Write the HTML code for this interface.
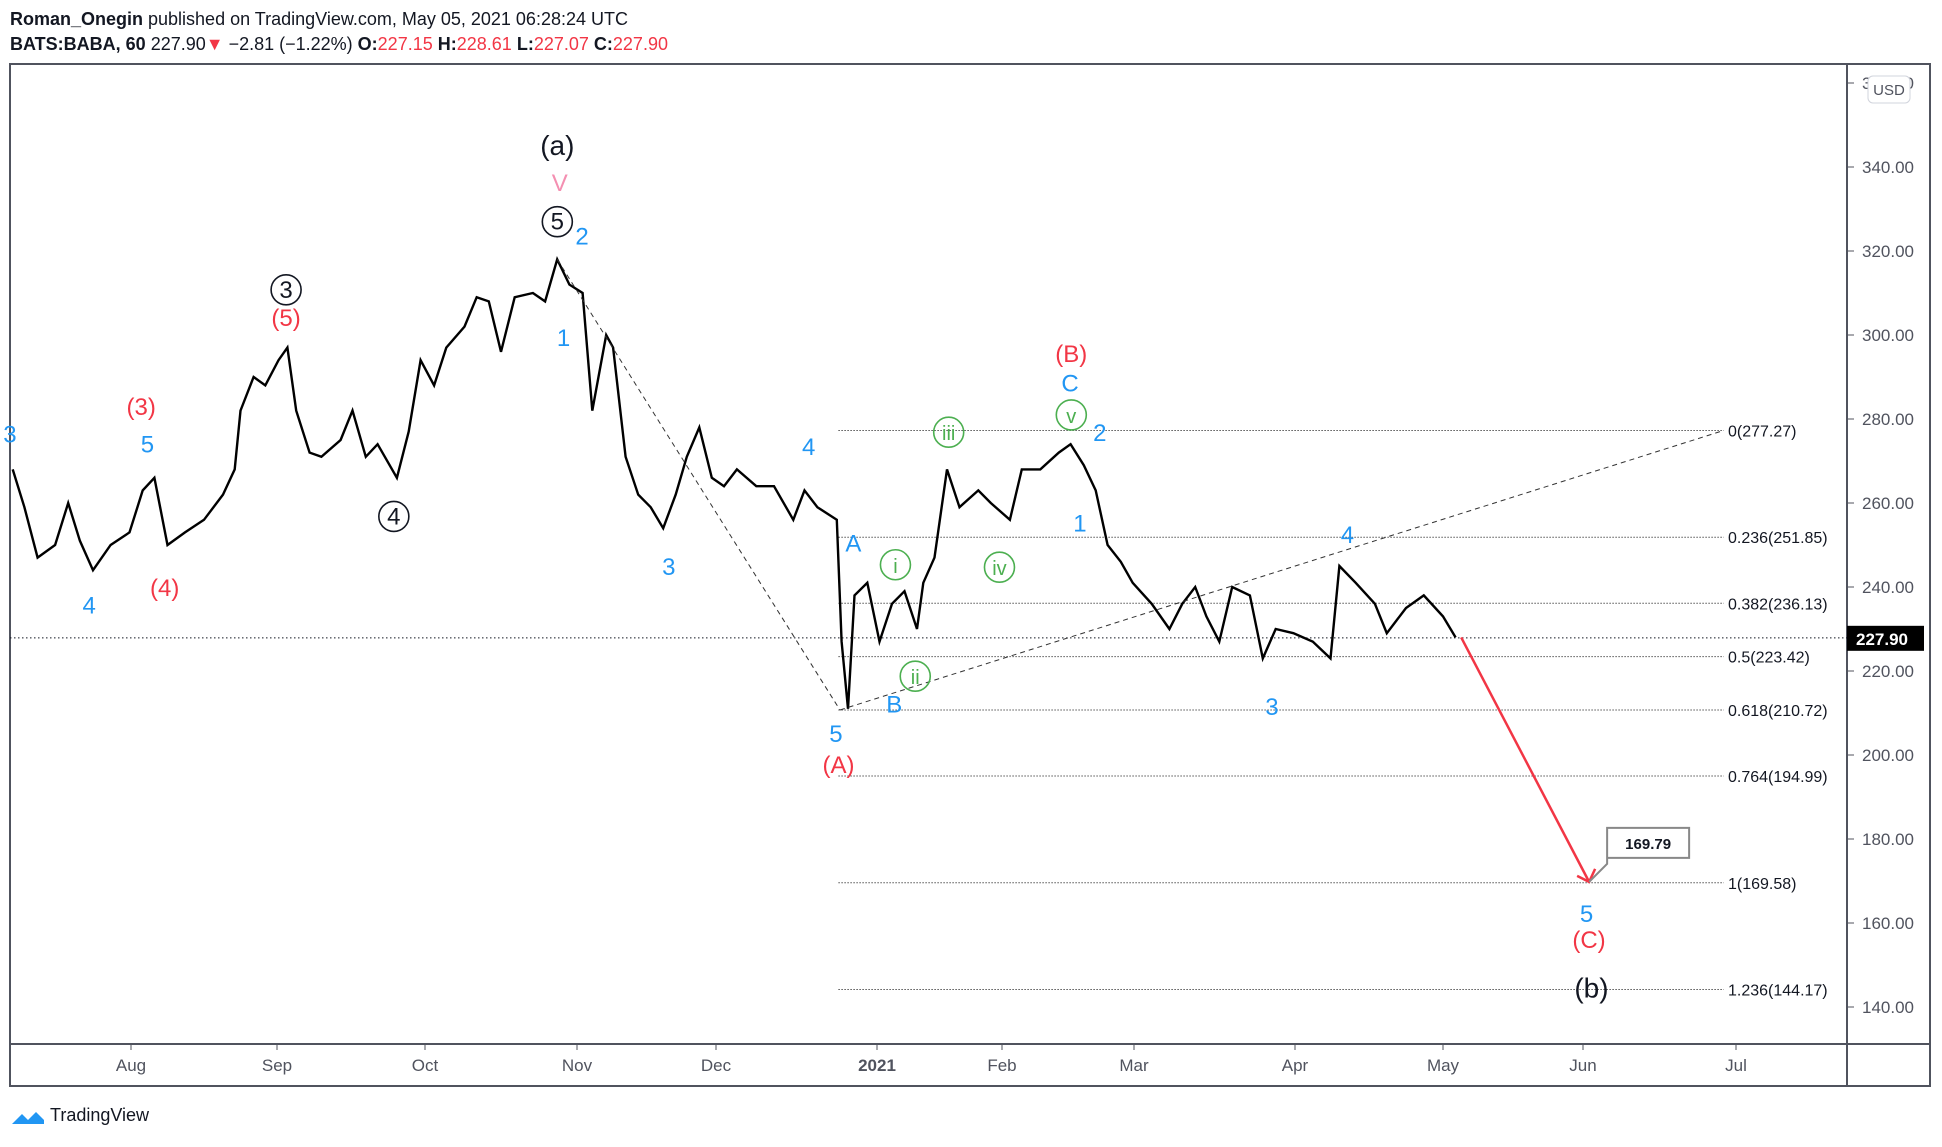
<!DOCTYPE html>
<html><head><meta charset="utf-8"><style>
html,body{margin:0;padding:0;background:#fff;}
body{width:1942px;height:1142px;overflow:hidden;font-family:"Liberation Sans",sans-serif;}
</style></head><body>
<svg width="1942" height="1142" xmlns="http://www.w3.org/2000/svg" id="svg">
<text x="10" y="25" font-size="18" fill="#131722"><tspan font-weight="bold">Roman_Onegin</tspan> published on TradingView.com, May 05, 2021 06:28:24 UTC</text>
<text x="10" y="50" font-size="18" fill="#131722"><tspan font-weight="bold">BATS:BABA, 60</tspan>  227.90<tspan fill="#f23645">▼</tspan> −2.81 (−1.22%) <tspan font-weight="bold">O:</tspan><tspan fill="#f23645">227.15</tspan> <tspan font-weight="bold">H:</tspan><tspan fill="#f23645">228.61</tspan> <tspan font-weight="bold">L:</tspan><tspan fill="#f23645">227.07</tspan> <tspan font-weight="bold">C:</tspan><tspan fill="#f23645">227.90</tspan></text>
<rect x="10" y="64" width="1920" height="1022" fill="none" stroke="#50535e" stroke-width="2"/>
<line x1="1847" y1="64" x2="1847" y2="1086" stroke="#50535e" stroke-width="2"/>
<line x1="10" y1="1044" x2="1930" y2="1044" stroke="#50535e" stroke-width="2"/>
<g id="grid"></g><g id="series"></g><g id="ann"></g>
<g>
<path d="M12 1124 l10-10 l6 6 l8-8 l8 8 l0 4 z" fill="#2196f3"/>
<text x="50" y="1121" font-size="18" fill="#131722">TradingView</text>
</g>
</svg>
<script>
const tTicks=[1,2,3,4,5,6,7,8,9,10,11,12];
const tickLabels=["Aug","Sep","Oct","Nov","Dec","2021","Feb","Mar","Apr","May","Jun","Jul"];
const tickX=[131,277,425,577,716,877,1002,1134,1295,1443,1583,1736];
const priceTicks=[360,340,320,300,280,260,240,220,200,180,160,140];
const times=[0.19,0.27,0.36,0.48,0.57,0.65,0.74,0.86,0.99,1.08,1.16,1.25,1.37,1.50,1.63,1.71,1.75,1.84,1.92,2.01,2.07,2.13,2.22,2.30,2.43,2.51,2.60,2.68,2.81,2.89,2.97,3.06,3.14,3.26,3.34,3.42,3.50,3.59,3.71,3.79,3.87,3.95,4.04,4.11,4.21,4.26,4.35,4.44,4.53,4.62,4.71,4.79,4.88,4.97,5.05,5.13,5.25,5.36,5.48,5.55,5.63,5.75,5.78,5.82,5.86,5.94,6.02,6.12,6.22,6.32,6.37,6.46,6.56,6.66,6.81,6.91,7.06,7.15,7.29,7.43,7.52,7.62,7.71,7.80,7.90,7.99,8.11,8.22,8.30,8.38,8.45,8.53,8.61,8.72,8.80,8.88,8.99,9.12,9.24,9.30,9.41,9.54,9.62,9.75,9.87,10.0,10.09];
const prices=[268,259,247,250,260,251,244,250,253,263,266,250,253,256,262,268,282,290,288,294,297,282,272,271,275,282,271,274,266,277,294,288,297,302,309,308,296,309,310,308,318,312,310,282,300,297,271,262,259,254,262,271,278,266,264,268,264,264,256,263,259,256,227,211,238,241,227,236,239,230,241,247,268,259,263,260,256,268,268,272,274,269,263,250,246,241,236,230,236,240,233,227,240,238,223,230,229,227,223,245,241,236,229,235,238,233,228];
const fibRatios=["0","0.236","0.382","0.5","0.618","0.764","1","1.236"];
const fibPrices=[277.27,251.85,236.13,223.42,210.72,194.99,169.58,144.17];
const lastPrice=227.90;
const target=169.79;

function X(t){
  if(t<=tTicks[0]) return tickX[0]-(tTicks[0]-t)*146;
  for(let i=0;i<tTicks.length-1;i++){
    if(t<=tTicks[i+1]) return tickX[i]+(t-tTicks[i])*(tickX[i+1]-tickX[i]);
  }
  return tickX[tickX.length-1]+(t-tTicks[tTicks.length-1])*150;
}
function Y(p){return 167+(340-p)*4.2;}
const NS="http://www.w3.org/2000/svg";
function mk(tag,attrs,parent,txt){const e=document.createElementNS(NS,tag);for(const k in attrs)e.setAttribute(k,attrs[k]);if(txt!==undefined)e.textContent=txt;parent.appendChild(e);return e;}
const grid=document.getElementById('grid'),series=document.getElementById('series'),ann=document.getElementById('ann');

priceTicks.forEach(p=>{
  const y=Y(p);
  const l=mk('line',{x1:1847,y1:y,x2:1854,y2:y,stroke:'#50535e'},grid);
  
  
  const t=mk('text',{x:1862,y:y+6,'font-size':17,fill:'#50535e'},grid,p.toFixed(2));
  
  
});
tTicks.forEach((tt,i)=>{
  const x=X(tt);
  const l=mk('line',{x1:x,y1:1044,x2:x,y2:1050,stroke:'#50535e'},grid);
  
  
  const t=mk('text',{x:x,y:1071,'font-size':17,fill:'#50535e','text-anchor':'middle','font-weight':i==5?'bold':'normal'},grid,tickLabels[i]);
  
  
});
const fx1=X(5.76),fx2=X(11.92);
fibPrices.forEach((p,i)=>{
  const y=Y(p);
  const l=mk('line',{x1:fx1,y1:y,x2:fx2,y2:y,stroke:'#555','stroke-width':1,'stroke-dasharray':'1.5,1.5'},grid);
  
  
  const t=mk('text',{x:1728,y:y+6,'font-size':16,fill:'#131722'},grid,fibRatios[i]+'('+p.toFixed(2)+')');
  
  
});
const ly=Y(lastPrice);
const ll=mk('line',{x1:10,y1:ly,x2:1847,y2:ly,stroke:'#131722','stroke-dasharray':'1.5,2.5'},grid);


const lr=mk('rect',{x:1847,y:ly-12,width:77,height:25,fill:'#000'},grid);


const lt=mk('text',{x:1856,y:ly+7,'font-size':17,fill:'#fff','font-weight':'bold'},grid,lastPrice.toFixed(2));


const ub=mk('rect',{x:1868,y:76,width:42,height:27,rx:5,fill:'#fff',stroke:'#d1d4dc'},grid);


const ut=mk('text',{x:1889,y:95,'font-size':15,fill:'#50535e','text-anchor':'middle'},grid,'USD');


let d='';
times.forEach((t,i)=>{d+=(i?'L':'M')+X(t).toFixed(1)+' '+Y(prices[i]).toFixed(1);});
const pl=mk('path',{d:d,fill:'none',stroke:'#000','stroke-width':2.4,'stroke-linejoin':'miter'},series);


const tl1=mk('line',{x1:X(3.87),y1:Y(318),x2:X(5.77),y2:Y(210.72),stroke:'#333','stroke-dasharray':'5,4'},series);


const tl2=mk('line',{x1:X(5.77),y1:Y(210.72),x2:X(11.92),y2:Y(277.27),stroke:'#333','stroke-dasharray':'5,4'},series);


const ax1=X(10.13),ay1=Y(228),ax2=X(11.04),ay2=Y(target);
const ar=mk('line',{x1:ax1,y1:ay1,x2:ax2,y2:ay2,stroke:'#f23645','stroke-width':2.5},series);


const ah=mk('path',{d:`M${ax2-12} ${ay2-6} L${ax2} ${ay2} L${ax2+6} ${ay2-13}`,fill:'none',stroke:'#f23645','stroke-width':2.5},series);


const cb=mk('path',{d:`M${ax2} ${ay2} L${ax2+18} ${ay2-18} L${ax2+18} ${ay2-24} L${ax2+100} ${ay2-24} L${ax2+100} ${ay2-54} L${ax2+18} ${ay2-54} L${ax2+18} ${ay2-24}`,fill:'#fff',stroke:'#888','stroke-width':2},series);


const ct=mk('text',{x:ax2+59,y:ay2-33,'font-size':15,'font-weight':'bold',fill:'#131722','text-anchor':'middle'},series,target.toFixed(2));



const S=1.2385;
const B='#2196f3',R='#f23645',K='#131722',G='#4caf50';
const labels=[[8,350,'3',B],[119,358,'5',B],[72,488,'4',B],[470,190,'2',B],[455,272,'1',B],[540,457,'3',B],[653,360,'4',B],[689,438,'A',B],[722,568,'B',B],[675,592,'5',B],[864,309,'C',B],[888,349,'2',B],[872,422,'1',B],[1088,431,'4',B],[1027,570,'3',B],[1281,737,'5',B],
[114,328,'(3)',R],[133,474,'(4)',R],[231,256,'(5)',R],[865,285,'(B)',R],[677,617,'(A)',R],[1283,758,'(C)',R],
[450,118,'(a)',K],[1285,798,'(b)',K],[452,147,'V','#f48fb1']];
labels.forEach(l=>{
  const big=(l[2]=='(a)'||l[2]=='(b)');
  const t=mk('text',{x:l[0]*S,y:l[1]*S+9,'font-size':big?28:24,fill:l[3],'text-anchor':'middle'},ann,l[2]);
  
  
});
const circles=[[231,234,'3',K],[318,417,'4',K],[450,179,'5',K],[723,456,'i',G],[739,546,'ii',G],[766,349,'iii',G],[807,458,'iv',G],[865,335,'v',G]];
circles.forEach(c=>{
  const cx=c[0]*S,cy=c[1]*S;
  const ci=mk('circle',{cx:cx,cy:cy,r:15,fill:'none',stroke:c[3],'stroke-width':1.6},ann);
  
  
  const t=mk('text',{x:cx,y:cy+8,'font-size':c[3]==K?24:20,fill:c[3],'text-anchor':'middle'},ann,c[2]);
  
  
});
</script>
</body></html>
